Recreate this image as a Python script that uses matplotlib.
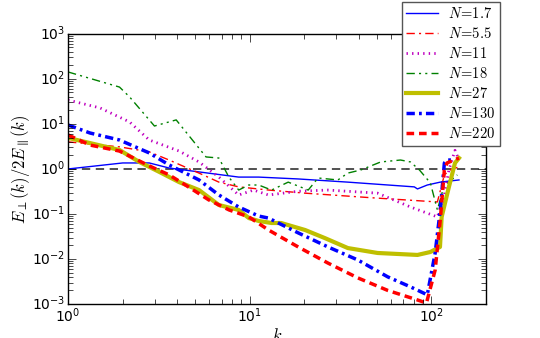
import matplotlib
matplotlib.use("Agg")
import matplotlib.pyplot as plt

plt.style.use("classic")
plt.rcParams["mathtext.fontset"] = "cm"
plt.rcParams["font.family"] = ["DejaVu Sans"]

# N = 1.7
k_a = [1, 2, 2.8, 3.6, 5.26, 8.7, 11.2, 18.5, 34.7, 80.6, 83.9, 95, 112, 142]
v_a = [1.0, 1.36, 1.36, 1.05, 0.86, 0.66, 0.66, 0.60, 0.51, 0.40, 0.36, 0.44, 0.51, 0.57]
# N = 5.5
k_b = [1, 1.92, 2.8, 3.6, 5.26, 6.77, 8.7, 12.7, 20.2, 46.4, 108, 118, 129, 142]
v_b = [4.0, 3.1, 2.4, 1.58, 0.81, 0.51, 0.40, 0.34, 0.29, 0.23, 0.185, 0.74, 1.0, 1.1]
# N = 11
k_c = [1, 1.5, 2.18, 2.8, 4.09, 5.26, 6.77, 8.7, 10.5, 12.7, 18.5, 27, 50.6, 76.8, 108, 118, 125, 135, 142]
v_c = [34, 22.7, 11.1, 4.4, 2.5, 1.43, 0.66, 0.264, 0.34, 0.264, 0.32, 0.34, 0.29, 0.143, 0.086, 0.264, 0.95, 2.6, 1.58]
# N = 18
k_d = [1, 1.92, 2.18, 2.99, 3.94, 5.75, 6.77, 7.68, 8.7, 9.88, 11.2, 13.2, 16.3, 21, 23.8, 30.6,
       34.7, 40.9, 52.6, 67.7, 76.8, 86, 98.8, 108, 117, 139]
v_d = [143, 66, 40, 9.0, 12.3, 1.85, 1.75, 0.66, 0.34, 0.44, 0.44, 0.34, 0.51, 0.34, 0.63, 0.57,
       0.81, 0.95, 1.43, 1.58, 1.43, 0.95, 0.49, 0.123, 0.40, 0.74]
# N = 27
k_e = [1, 1.92, 2.47, 3.18, 4.09, 5.26, 6.77, 8.7, 9.9, 11.2, 13.2, 14.9, 20.2, 26, 34.7, 50.6,
       83.9, 98.8, 111.6, 114, 125, 135, 142]
v_e = [4.9, 2.64, 1.43, 0.86, 0.51, 0.34, 0.158, 0.123, 0.081, 0.070, 0.063, 0.063, 0.044, 0.029,
       0.0175, 0.0136, 0.0123, 0.0143, 0.0185, 0.086, 0.40, 1.36, 1.75]
# N = 130
k_f = [1, 1.32, 1.92, 2.8, 3.6, 5.26, 6.77, 8.7, 11.2, 12.7, 18.5, 27, 39.4, 57.6, 76.8, 95,
       105, 112, 118, 122, 135]
v_f = [9.5, 6.3, 4.4, 2.27, 1.23, 0.57, 0.264, 0.143, 0.090, 0.081, 0.038, 0.0185, 0.0095,
       0.0040, 0.0024, 0.0016, 0.0136, 0.123, 1.36, 1.58, 1.58]
# N = 220
k_g = [1, 1.32, 1.92, 2.8, 3.6, 4.6, 5.96, 7.7, 9.9, 12.7, 18.5, 27, 39.4, 57.6, 83.9, 94,
       105, 112, 118, 122, 142]
v_g = [5.7, 3.4, 2.5, 1.17, 0.74, 0.40, 0.205, 0.123, 0.086, 0.044, 0.0185, 0.0081, 0.0038,
       0.0020, 0.00123, 0.00105, 0.0057, 0.074, 0.95, 1.36, 1.75]

labels = ["$N\\!=\\!1.7$", "$N\\!=\\!5.5$", "$N\\!=\\!11$", "$N\\!=\\!18$",
          "$N\\!=\\!27$", "$N\\!=\\!130$", "$N\\!=\\!220$"]

fig = plt.figure(figsize=(5.4, 3.38), dpi=100, facecolor="white")
ax = fig.add_axes([0.126, 0.1006, 0.774, 0.799])

ax.axhline(1.0, color="#333333", ls="--", lw=1.2, dashes=(6, 4))
ax.plot(k_a, v_a, color="b", ls="-", lw=1.0, label=labels[0])
ax.plot(k_b, v_b, color="r", lw=1.0, dashes=(6, 3, 1.5, 3), label=labels[1])
ax.plot(k_c, v_c, color="m", lw=2.0, ls=":", label=labels[2])
ax.plot(k_d, v_d, color="g", lw=1.0, dashes=(6, 3, 1.5, 3, 1.5, 3), label=labels[3])
ax.plot(k_e, v_e, color="y", lw=3.0, ls="-", label=labels[4])
ax.plot(k_f, v_f, color="b", lw=2.5, dashes=(6, 3, 2, 3), label=labels[5])
ax.plot(k_g, v_g, color="r", lw=2.5, dashes=(5.5, 3.5), label=labels[6])

ax.set_xscale("log")
ax.set_yscale("log")
ax.set_xlim(1, 200)
ax.set_ylim(1e-3, 1e3)
ax.tick_params(which="major", length=6, labelsize=10, direction="in", pad=2)
ax.tick_params(which="minor", length=3.5, direction="in")
ax.set_xlabel("$k$", fontsize=12)
ax.set_ylabel("$E_\\perp(k)/2E_\\parallel(k)$", fontsize=12)
ax.xaxis.set_label_coords(0.5, -0.085)
ax.yaxis.set_label_coords(-0.086, 0.5)

leg = ax.legend(loc="upper right", bbox_to_anchor=(0.926, 0.994), bbox_transform=fig.transFigure,
                borderaxespad=0, fontsize=10.5, handlelength=2.2, labelspacing=0.34,
                handletextpad=0.7, borderpad=0.3, fancybox=False, frameon=True, numpoints=1)
leg.get_frame().set_edgecolor("#555555")

fig.savefig("out.png", dpi=100, facecolor="white")
